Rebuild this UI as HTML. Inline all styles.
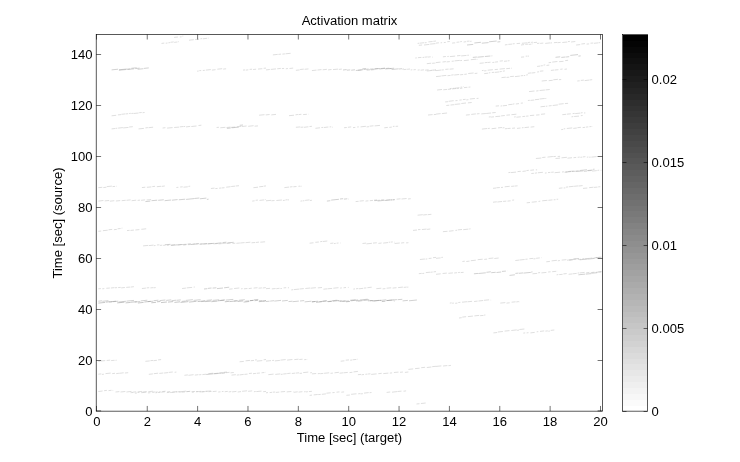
<!DOCTYPE html>
<html><head><meta charset="utf-8"><title>Activation matrix</title>
<style>html,body{margin:0;padding:0;background:#fff;}svg{display:block;font-family:"Liberation Sans",Arial,Helvetica,sans-serif;font-size:13.05px;fill:#000;}</style></head><body>
<svg width="740" height="462" viewBox="0 0 740 462">
<rect width="740" height="462" fill="#fff"/>
<g id="data" fill="none" stroke-width="0.5">
<path stroke="#bebebe" d="M161.5 43.4L164.3 43.1M165.7 43.2L167.5 43.0M168.4 42.8L170.1 42.6M170.5 42.3L173.7 41.9M174.2 42.4L177.4 42.0M177.9 41.8L178.7 41.7M174.1 37.4L177.9 37.0M179.9 37.0L181.6 36.8M182.4 36.1L183.3 36.1M189.0 40.2L193.8 39.7M195.1 39.6L199.1 39.2M200.4 38.8L202.1 38.6M202.8 38.8L207.0 38.3M207.8 38.2L208.6 38.1M197.1 71.2L198.7 71.0M199.3 70.7L201.2 70.5M202.8 70.5L204.8 70.3M205.8 70.1L210.8 69.6M211.9 70.1L215.6 69.7M217.3 69.2L222.2 68.7M223.2 69.1L226.1 68.8M243.0 70.1L245.1 69.9M245.8 70.1L248.3 69.8M249.6 69.4L252.1 69.2M253.1 69.5L256.1 69.2M258.0 69.1L262.3 68.7M263.6 68.3L266.0 68.1M111.6 115.8L116.2 115.3M117.9 114.9L121.0 114.6M121.4 114.3L125.5 113.9M125.9 113.9L128.2 113.7M129.1 113.5L130.8 113.3M131.4 113.5L133.3 113.3M133.6 113.5L138.6 113.0M139.2 112.7L141.7 112.5M142.6 112.7L144.6 112.5M111.6 128.9L115.0 128.5M115.4 128.4L117.3 128.2M118.1 128.1L122.9 127.6M123.2 127.9L128.5 127.4M129.1 127.0L132.8 126.7M138.5 128.9L143.9 128.4M145.4 127.9L147.9 127.6M148.5 127.7L153.1 127.2M162.6 128.0L165.4 127.7M167.1 128.1L172.6 127.6M174.2 127.5L179.0 127.1M179.7 126.9L183.3 126.5M183.6 126.6L185.2 126.4M186.0 126.9L190.2 126.4M191.3 126.5L196.5 126.0M198.5 125.5L201.4 125.2M216.6 127.5L218.9 127.3M220.3 127.8L225.4 127.3M226.5 127.5L230.6 127.1M231.0 127.4L235.2 127.0M236.8 126.8L241.3 126.4M241.9 126.5L246.6 126.0M248.2 126.3L253.6 125.7M254.6 126.2L258.0 125.9M259.1 115.2L264.5 114.7M265.7 114.8L266.0 114.8M272.9 54.9L277.7 54.4M278.4 54.4L281.1 54.1M282.4 54.1L284.9 53.9M285.5 53.8L290.6 53.3M266.0 69.9L269.8 69.5M270.8 69.4L276.0 68.9M277.2 68.8L280.8 68.4M281.9 68.6L284.1 68.4M285.8 68.8L287.9 68.5M289.5 68.5L293.2 68.1M295.9 70.3L299.6 69.9M300.1 69.5L303.8 69.1M304.6 69.3L308.5 68.9M311.9 70.6L316.5 70.1M317.5 70.0L321.5 69.6M322.7 69.8L326.9 69.3M328.1 69.9L331.5 69.5M333.0 69.6L338.0 69.1M338.8 69.4L341.8 69.1M403.8 69.6L406.5 69.3M407.1 69.3L410.0 69.0M410.7 69.9L412.3 69.8M413.5 69.8L415.8 69.6M417.7 70.1L419.6 69.9M420.6 70.2L424.1 69.8M425.1 70.2L428.6 69.8M430.6 70.4L433.4 70.1M434.9 70.2L436.0 70.1M417.6 43.4L419.3 43.2M419.8 43.2L424.2 42.7M424.8 42.8L426.6 42.6M428.4 41.9L432.6 41.5M433.3 41.3L436.0 41.0M418.8 45.3L422.1 45.0M424.0 45.0L429.4 44.4M430.1 44.1L435.5 43.6M415.3 58.0L416.8 57.9M417.9 57.7L421.4 57.4M422.6 57.5L424.1 57.3M424.6 57.2L427.7 56.9M428.0 57.1L430.7 56.8M432.0 57.2L432.6 57.1M426.8 63.7L431.2 63.2M432.1 63.3L434.9 63.1M435.5 62.9L436.0 62.8M426.8 71.0L431.6 70.5M433.0 70.2L436.0 69.9M266.0 114.9L269.6 114.5M271.3 114.9L276.0 114.4M289.0 115.7L294.0 115.2M295.5 114.8L297.9 114.5M298.5 114.6L301.4 114.3M303.1 114.6L306.9 114.3M308.2 114.2L308.5 114.2M428.0 115.0L432.6 114.6M433.8 114.6L436.0 114.4M295.9 127.3L300.3 126.9M300.7 127.3L303.3 127.1M303.9 127.3L308.4 126.8M309.5 126.5L311.9 126.3M315.4 128.3L320.0 127.8M321.4 127.5L323.2 127.4M323.9 127.5L328.4 127.0M329.6 126.9L331.2 126.8M331.9 127.2L332.6 127.2M344.1 127.7L346.8 127.5M347.9 127.3L351.2 126.9M353.0 127.6L355.3 127.4M357.2 127.0L358.8 126.9M360.5 126.9L365.9 126.3M366.6 126.9L369.0 126.7M369.6 126.2L373.5 125.8M374.6 125.9L380.0 125.4M384.3 127.8L387.8 127.4M389.3 127.4L391.8 127.1M392.9 126.4L394.5 126.3M395.6 126.4L398.1 126.2M436.0 43.1L438.9 42.8M440.6 42.8L442.1 42.7M443.8 42.6L445.8 42.4M447.3 41.7L449.8 41.5M452.1 43.1L455.2 42.8M456.5 42.3L459.4 42.0M460.2 41.7L461.9 41.5M463.6 42.0L466.2 41.7M466.9 41.3L469.5 41.1M470.1 41.4L471.6 41.2M504.9 44.9L507.5 44.6M508.3 44.4L512.0 44.1M512.6 43.9L514.7 43.7M516.6 43.6L520.1 43.3M521.9 43.3L527.4 42.8M527.9 42.5L530.2 42.3M531.1 42.4L532.9 42.2M533.7 42.6L537.1 42.3M521.0 45.0L524.1 44.6M525.3 44.4L528.3 44.1M528.8 44.4L531.4 44.2M531.9 43.8L532.5 43.8M537.1 43.5L539.4 43.2M540.2 43.4L543.3 43.1M545.2 43.4L550.1 42.9M550.4 43.0L552.0 42.8M553.9 42.7L557.3 42.4M557.6 42.7L560.6 42.4M562.3 42.5L567.3 42.0M568.0 41.6L569.9 41.4M571.1 42.0L575.3 41.5M576.1 45.0L580.2 44.6M581.3 44.0L585.0 43.6M586.6 44.1L589.1 43.9M590.5 43.2L593.2 43.0M593.9 43.3L598.0 42.9M598.4 42.8L600.2 42.6M442.9 56.8L445.9 56.5M447.3 56.5L448.8 56.4M449.9 56.6L455.2 56.1M457.0 55.8L460.4 55.5M461.2 55.9L466.5 55.4M467.3 55.3L468.9 55.2M470.3 55.0L470.5 55.0M436.0 62.6L440.5 62.1M442.5 62.0L445.9 61.6M446.6 61.9L449.8 61.6M451.7 61.3L453.8 61.1M454.5 60.9L459.8 60.4M460.2 60.6L462.0 60.4M463.8 60.6L468.8 60.1M470.8 59.7L476.1 59.2M476.7 59.5L477.4 59.4M479.6 63.3L483.8 62.9M484.7 62.7L487.6 62.4M487.9 62.5L490.5 62.2M492.4 62.5L494.4 62.3M495.1 62.1L498.0 61.8M499.7 61.1L502.9 60.8M504.0 61.3L507.0 61.0M507.6 60.9L509.5 60.7M521.0 57.2L524.1 56.9M525.7 56.2L527.4 56.1M527.8 56.2L529.0 56.1M548.6 62.7L551.1 62.4M552.2 62.1L557.4 61.5M559.1 61.7L563.5 61.3M565.2 60.6L568.1 60.3M537.1 66.4L540.0 66.1M540.5 65.9L542.8 65.7M543.5 65.1L545.2 64.9M546.5 65.4L549.3 65.1M436.0 70.6L441.5 70.0M441.9 70.0L443.8 69.8M445.3 69.4L448.6 69.1M449.6 69.2L453.6 68.8M436.0 76.6L440.9 76.1M441.4 75.9L446.3 75.4M447.5 75.7L450.5 75.4M451.2 75.1L453.6 74.8M454.2 75.0L459.2 74.5M460.1 74.8L463.2 74.5M464.3 74.4L466.8 74.1M468.2 73.5L473.6 73.0M474.7 73.5L477.4 73.2M481.9 70.6L483.6 70.4M484.1 70.9L486.4 70.7M487.7 70.2L492.9 69.7M494.7 69.6L497.9 69.3M499.6 69.1L504.9 68.6M506.2 68.7L510.1 68.3M511.1 68.3L511.8 68.2M484.2 73.6L488.1 73.2M488.8 72.9L490.3 72.7M491.8 72.5L494.0 72.3M494.7 72.4L499.4 71.9M499.8 71.7L501.7 71.5M502.9 71.2L504.9 70.9M501.5 77.6L505.8 77.2M506.5 77.4L509.3 77.2M510.1 76.6L513.9 76.3M514.9 76.6L519.8 76.1M520.7 75.8L523.0 75.6M523.7 75.6L525.2 75.5M526.2 75.0L527.9 74.8M527.9 73.3L531.2 72.9M531.6 73.0L535.3 72.6M537.1 72.0L539.0 71.8M539.9 71.2L543.4 70.9M550.9 70.4L554.4 70.0M554.9 70.0L558.4 69.7M560.3 69.3L562.6 69.0M564.5 69.3L566.9 69.0M541.7 81.0L546.9 80.5M548.7 80.7L552.7 80.3M553.3 79.8L557.9 79.3M558.9 79.7L561.2 79.5M577.3 81.0L579.7 80.8M580.8 80.4L583.9 80.1M584.6 80.6L589.0 80.1M589.4 80.0L592.2 79.7M437.1 90.0L442.0 89.5M443.3 89.8L447.0 89.4M447.8 89.4L451.0 89.1M452.0 88.9L456.2 88.5M457.2 88.6L458.8 88.4M460.0 88.4L462.4 88.2M464.0 87.6L467.4 87.3M468.5 87.2L470.4 87.0M449.8 88.6L451.7 88.4M452.8 88.4L454.5 88.2M454.9 88.2L459.4 87.7M460.5 87.2L462.2 87.1M463.2 86.6L463.6 86.6M529.0 91.6L534.5 91.0M536.2 91.0L538.5 90.7M539.6 90.5L544.9 90.0M545.5 89.9L549.7 89.5M445.2 101.9L448.1 101.7M448.7 101.3L453.7 100.7M455.4 100.7L457.5 100.5M459.4 100.1L461.7 99.9M462.9 99.6L465.6 99.3M466.3 99.9L468.4 99.7M469.9 99.0L474.9 98.5M476.6 98.5L478.5 98.3M446.3 105.5L449.3 105.2M450.5 105.0L454.3 104.7M454.8 104.4L460.3 103.9M461.3 103.5L466.0 103.0M467.9 102.9L471.7 102.5M495.7 106.1L499.0 105.8M500.6 106.0L502.3 105.8M503.0 105.8L507.0 105.4M508.3 104.7L512.5 104.3M512.8 104.1L514.4 103.9M515.8 104.0L519.0 103.6M520.8 103.2L522.9 103.0M524.3 102.6L524.4 102.6M527.9 100.5L529.8 100.3M530.5 100.4L534.3 100.0M535.0 99.7L539.0 99.3M539.5 99.0L544.7 98.5M545.3 98.5L546.3 98.4M540.5 106.8L545.2 106.3M545.9 106.3L547.4 106.1M548.7 105.9L551.6 105.6M552.7 105.5L557.9 104.9M558.6 104.2L563.7 103.7M564.9 103.6L568.1 103.3M436.0 114.1L440.6 113.6M441.9 113.6L447.1 113.0M465.9 115.1L469.8 114.7M471.2 114.4L475.9 113.9M476.8 113.9L479.5 113.6M481.3 113.9L485.9 113.5M486.2 113.5L491.1 113.0M492.2 112.8L495.7 112.5M488.8 117.0L490.8 116.8M491.1 117.1L494.0 116.8M495.4 116.6L500.3 116.2M501.1 115.9L504.8 115.5M506.4 115.2L510.0 114.9M511.4 114.7L516.4 114.2M514.1 117.0L515.7 116.8M516.4 117.2L520.8 116.8M522.4 116.6L525.2 116.3M526.1 116.2L528.5 116.0M529.9 115.6L534.2 115.2M536.1 115.1L539.5 114.8M541.0 114.3L545.1 113.9M562.3 114.7L566.1 114.3M566.8 114.2L570.8 113.8M572.6 113.6L574.7 113.4M575.2 113.6L580.4 113.1M580.9 112.9L582.6 112.7M584.0 113.0L585.3 112.9M571.5 116.8L573.3 116.6M574.2 116.5L579.0 116.1M580.8 115.7L582.6 115.5M481.9 129.1L487.2 128.5M487.9 128.5L489.8 128.3M491.6 128.7L496.3 128.2M498.0 127.9L502.0 127.5M502.5 127.9L504.4 127.7M504.9 128.8L507.7 128.5M508.0 128.5L510.6 128.3M512.1 128.3L515.0 128.0M517.0 128.4L520.5 128.0M521.9 127.8L523.5 127.6M524.5 127.6L529.1 127.1M530.6 127.1L534.3 126.7M561.2 129.6L563.1 129.4M563.7 128.9L565.2 128.7M566.8 128.5L572.2 127.9M573.3 128.4L576.8 128.0M577.4 127.7L580.9 127.3M582.6 127.6L585.1 127.3M585.9 127.1L588.3 126.9M589.4 126.7L591.3 126.5M591.8 126.5L592.2 126.5M98.3 187.7L102.3 187.3M103.3 187.6L106.4 187.2M106.8 186.6L111.9 186.1M112.5 186.6L115.1 186.4M116.2 186.3L116.7 186.2M141.9 187.6L145.3 187.2M146.9 187.3L151.4 186.9M152.3 186.6L155.1 186.3M156.8 186.7L161.0 186.3M161.6 186.4L164.8 186.0M176.4 187.5L178.4 187.3M180.2 187.0L182.7 186.8M183.5 187.2L187.8 186.8M188.4 186.4L190.2 186.2M210.9 188.5L214.5 188.1M215.3 188.6L217.6 188.4M219.1 188.2L221.0 188.0M221.5 188.0L224.5 187.7M226.2 187.2L230.6 186.7M231.2 186.5L235.3 186.1M235.9 186.0L239.0 185.7M253.4 187.7L258.0 187.2M259.2 186.8L263.2 186.4M263.7 186.2L266.0 185.9M98.3 201.1L103.4 200.5M104.7 200.9L109.2 200.5M109.9 201.2L114.3 200.7M115.9 201.0L120.2 200.6M121.7 200.7L125.7 200.3M126.5 200.3L130.6 199.9M131.6 200.7L136.2 200.2M137.6 200.4L140.1 200.1M141.1 200.3L145.1 199.9M146.6 200.0L151.1 199.6M252.2 201.1L254.6 200.8M255.6 200.3L257.9 200.1M259.5 200.4L264.3 199.9M265.4 199.6L266.0 199.5M98.3 231.3L101.2 231.0M102.9 230.7L107.7 230.2M108.5 229.8L112.2 229.4M113.9 229.7L116.8 229.4M117.6 228.8L120.6 228.5M121.6 228.2L122.4 228.1M127.0 230.6L129.6 230.3M130.5 230.4L133.9 230.1M135.3 230.0L139.4 229.6M141.3 229.3L146.2 228.8M143.1 245.9L148.2 245.4M148.8 245.6L153.6 245.1M153.9 245.7L155.5 245.5M156.9 245.0L159.4 244.8M159.9 245.4L162.3 245.2M163.2 245.4L165.3 245.2M167.0 245.3L169.2 245.1M170.5 245.0L175.1 244.6M176.9 245.0L181.6 244.5M182.2 244.6L186.5 244.2M188.1 244.7L191.3 244.4M192.6 244.1L195.1 243.8M195.7 243.9L199.1 243.5M200.2 244.1L202.3 243.9M203.4 244.2L207.1 243.9M207.4 243.8L212.3 243.4M213.5 243.9L217.7 243.5M218.6 243.9L221.8 243.6M222.2 243.6L226.3 243.1M226.6 243.5L230.6 243.1M232.5 243.5L235.3 243.2M236.4 243.3L239.9 243.0M240.2 243.0L244.6 242.6M245.5 242.7L250.4 242.2M251.5 242.8L255.1 242.5M255.8 242.5L259.0 242.1M260.3 242.2L265.1 241.8M284.4 187.6L289.0 187.1M289.8 187.0L292.5 186.7M293.3 186.8L296.5 186.5M298.4 186.3L300.1 186.1M300.5 186.3L301.6 186.2M266.0 200.8L271.2 200.3M271.5 200.8L274.5 200.5M276.4 200.5L281.9 200.0M282.9 200.5L284.8 200.3M285.4 200.0L287.5 199.7M287.8 200.0L289.0 199.8M300.5 201.1L302.3 200.9M302.8 200.9L304.4 200.7M305.1 200.4L309.5 199.9M309.9 200.5L311.9 200.3M355.6 201.6L358.6 201.3M359.6 201.1L363.8 200.7M365.5 201.1L368.4 200.8M369.8 200.7L373.0 200.4M374.6 200.7L379.9 200.2M381.1 199.9L383.8 199.6M385.8 200.2L390.1 199.7M391.0 200.0L394.9 199.6M396.6 199.2L400.5 198.8M401.5 199.0L406.6 198.5M408.0 199.0L410.7 198.7M417.6 215.2L422.8 214.7M423.2 215.0L426.9 214.6M427.6 214.7L431.4 214.3M413.0 230.4L417.0 230.0M418.0 229.7L420.4 229.5M421.9 229.5L426.6 229.1M427.1 229.4L430.3 229.0M309.6 243.2L313.5 242.8M315.3 242.3L318.9 242.0M320.2 241.7L322.4 241.4M323.0 241.5L327.3 241.0M330.3 243.4L333.4 243.1M334.0 243.6L335.7 243.4M336.6 243.2L338.5 243.0M340.2 243.0L340.7 243.0M362.5 243.5L366.1 243.1M366.4 243.9L371.9 243.3M373.0 243.1L376.8 242.8M378.4 243.4L381.6 243.0M383.2 243.1L388.0 242.6M388.7 242.3L390.4 242.1M391.0 242.1L392.8 241.9M394.1 242.2L394.6 242.2M394.6 243.5L399.8 243.0M401.1 243.0L404.2 242.7M406.1 242.9L408.4 242.7M535.9 158.5L541.3 158.0M542.2 157.5L545.5 157.2M547.5 157.1L552.9 156.5M553.3 156.6L555.8 156.4M557.7 156.5L560.1 156.3M555.5 158.5L560.1 158.1M561.5 157.8L566.9 157.3M567.5 158.2L572.0 157.7M573.5 157.7L576.2 157.4M577.7 157.3L579.7 157.1M580.4 157.3L582.4 157.1M583.0 156.9L585.4 156.7M586.9 157.2L588.4 157.0M589.1 157.2L590.7 157.1M591.4 157.1L596.6 156.6M508.4 172.6L510.4 172.4M510.9 172.6L516.1 172.1M517.5 171.6L520.8 171.3M522.5 171.4L525.9 171.0M526.4 170.6L528.8 170.3M530.3 170.3L534.0 169.9M535.8 169.9L537.1 169.8M531.3 173.5L533.9 173.3M534.8 173.2L537.0 172.9M537.8 172.8L542.9 172.3M544.9 173.1L546.6 172.9M548.0 172.6L550.4 172.4M551.2 172.3L553.7 172.1M554.6 172.7L560.1 172.2M562.0 172.0L563.9 171.8M565.7 172.1L567.4 171.9M568.2 171.5L573.6 171.0M575.3 171.3L578.2 171.0M578.5 171.5L583.3 171.0M583.9 171.5L587.1 171.2M587.8 170.8L591.6 170.5M592.2 171.1L596.8 170.6M597.4 170.4L599.2 170.2M600.6 170.4L601.4 170.3M493.0 188.3L496.0 188.0M496.3 187.8L499.8 187.5M501.0 187.5L503.0 187.3M504.7 186.8L509.7 186.3M511.2 186.4L514.2 186.1M514.6 186.1L517.6 185.8M558.9 188.3L562.5 187.9M563.7 188.0L565.3 187.9M565.9 187.2L568.2 186.9M568.9 186.8L573.7 186.3M574.1 186.3L578.4 185.9M578.7 186.0L582.6 185.6M583.0 188.4L587.3 188.0M589.1 187.7L593.5 187.2M594.0 187.4L597.5 187.1M598.2 186.9L600.2 186.7M600.8 186.9L600.9 186.9M493.0 202.2L496.8 201.8M497.3 202.0L502.1 201.5M503.1 201.4L506.3 201.1M507.5 201.1L510.6 200.8M512.2 200.2L514.1 200.0M526.7 202.8L530.0 202.5M531.7 202.2L536.8 201.7M538.5 201.4L540.3 201.2M542.2 200.8L547.4 200.3M548.4 200.3L552.5 199.9M553.7 199.8L555.5 199.7M556.6 199.3L558.2 199.2M442.9 231.7L447.5 231.3M448.9 231.2L453.6 230.7M455.4 230.4L457.1 230.2M457.8 229.9L462.0 229.5M463.2 229.7L468.4 229.1M469.2 229.0L470.5 228.8M98.3 288.8L100.9 288.6M102.3 288.8L104.3 288.6M106.3 288.3L109.8 288.0M110.9 288.0L114.5 287.6M115.0 287.8L117.1 287.6M118.1 287.6L120.7 287.4M121.2 287.9L124.9 287.5M126.2 287.4L130.0 287.1M130.6 287.1L133.9 286.7M141.9 288.5L145.9 288.1M146.7 287.9L149.2 287.7M150.4 287.9L153.4 287.6M153.7 287.8L155.7 287.6M182.1 288.5L185.9 288.1M186.7 287.9L192.1 287.4M193.7 287.1L194.8 287.0M229.2 289.2L232.6 288.8M234.1 288.5L239.3 288.0M241.1 288.8L242.6 288.6M243.9 288.8L247.4 288.5M248.7 288.6L251.8 288.2M253.6 288.1L257.5 287.7M258.6 288.2L261.9 287.9M262.7 288.0L265.8 287.6M419.9 259.5L424.9 259.0M425.6 259.1L427.3 258.9M428.7 258.5L431.6 258.2M433.0 257.7L436.0 257.4M418.8 273.7L421.7 273.4M422.3 273.5L424.2 273.3M425.8 272.6L430.1 272.2M430.5 272.3L432.7 272.0M433.5 271.9L436.0 271.6M266.0 288.7L270.1 288.3M271.8 288.9L275.6 288.5M276.3 288.7L279.5 288.3M280.4 288.6L281.9 288.5M283.6 287.9L286.2 287.7M287.9 287.8L289.0 287.7M291.3 289.9L293.2 289.7M293.9 289.6L299.0 289.1M299.5 289.0L303.8 288.6M305.3 288.5L310.1 288.0M310.6 288.2L315.9 287.7M317.8 287.9L322.0 287.5M323.4 289.2L327.4 288.8M327.8 288.8L332.1 288.4M333.3 288.2L338.5 287.7M340.1 288.1L341.8 287.9M343.5 287.8L346.0 287.5M347.9 287.4L348.7 287.4M353.3 289.1L355.0 288.9M356.0 288.8L358.3 288.5M358.9 288.8L363.2 288.3M363.9 288.1L366.4 287.9M367.4 287.7L371.7 287.2M376.3 288.7L381.3 288.2M382.6 288.9L385.4 288.6M386.6 288.2L391.2 287.8M392.6 288.1L396.5 287.7M398.1 287.6L402.9 287.1M403.7 287.4L406.7 287.1M407.1 287.2L408.4 287.1M436.0 258.3L440.6 257.9M441.3 257.4L442.9 257.3M462.4 261.5L464.8 261.2M466.3 261.5L469.5 261.1M470.8 260.7L475.8 260.2M477.7 259.7L482.7 259.2M484.2 259.4L487.1 259.1M488.6 258.5L493.4 258.0M494.3 258.5L498.7 258.0M500.3 257.6L500.3 257.6M515.3 260.5L519.0 260.1M519.4 260.0L524.6 259.5M525.4 259.3L527.6 259.1M529.4 258.7L533.2 258.4M533.5 258.9L535.5 258.7M536.1 258.3L539.8 257.9M541.3 257.7L541.7 257.7M546.3 261.8L549.9 261.4M551.6 260.9L556.9 260.3M557.8 260.8L559.9 260.5M561.7 260.1L566.4 259.7M567.0 260.2L571.7 259.7M572.7 259.4L576.1 259.1M577.9 259.5L580.9 259.2M582.3 258.8L584.1 258.6M584.7 258.8L589.8 258.3M590.2 258.2L592.4 258.0M593.5 258.0L597.3 257.6M598.2 257.8L599.7 257.6M600.6 257.5L601.4 257.4M436.0 274.3L440.7 273.8M442.6 273.5L446.8 273.1M448.4 273.3L452.9 272.9M454.2 273.0L457.1 272.7M458.1 272.6L459.9 272.4M460.7 272.6L463.6 272.3M532.5 273.8L537.2 273.4M538.1 272.8L540.1 272.6M541.4 272.9L546.4 272.4M548.2 272.0L550.6 271.8M552.2 271.7L556.3 271.3M557.7 271.0L557.8 271.0M556.6 274.8L558.3 274.6M559.2 274.6L562.6 274.3M563.4 273.9L566.7 273.6M568.6 274.3L572.4 273.9M572.7 273.8L576.7 273.4M577.6 273.1L579.4 272.9M580.0 272.9L584.6 272.4M586.2 272.8L589.4 272.4M590.7 272.6L594.4 272.2M595.8 272.3L598.6 272.0M599.3 272.1L601.4 271.8M449.8 303.1L451.6 302.9M452.2 303.2L453.9 303.1M455.2 303.3L457.4 303.1M458.3 302.5L460.4 302.3M462.0 302.2L467.1 301.7M467.5 301.8L472.1 301.3M474.1 301.5L477.6 301.1M478.5 301.0L483.2 300.5M484.0 300.3L489.1 299.8M490.7 300.1L491.1 300.1M500.3 303.1L505.3 302.6M506.5 303.1L509.7 302.8M511.6 302.2L515.6 301.8M516.3 301.9L518.9 301.6M519.6 301.8L519.9 301.8M459.0 318.0L461.7 317.7M462.3 317.1L466.1 316.7M467.9 316.6L472.9 316.1M474.4 315.9L479.2 315.4M480.1 315.7L483.5 315.4M484.1 315.1L485.4 315.0M493.4 332.9L497.2 332.5M497.9 332.0L502.9 331.5M504.6 331.1L509.5 330.6M511.3 330.5L516.8 329.9M517.1 330.3L519.1 330.1M519.4 329.5L524.4 329.0M523.3 333.1L525.2 332.9M526.6 332.9L528.5 332.7M530.4 332.9L534.7 332.4M536.7 331.8L538.3 331.7M540.0 331.4L544.2 330.9M545.4 331.1L547.8 330.9M548.3 331.2L549.9 331.1M550.7 330.4L554.3 330.0M98.3 361.4L100.3 361.2M100.9 361.0L105.2 360.6M106.7 360.5L110.2 360.1M111.1 360.6L114.6 360.3M115.5 360.3L116.7 360.2M145.4 361.3L149.8 360.9M150.4 360.7L153.0 360.4M153.4 360.7L156.9 360.3M158.1 359.9L161.1 359.6M162.6 359.9L162.6 359.9M239.6 361.8L243.8 361.4M245.6 360.8L250.0 360.4M250.8 360.8L254.0 360.4M255.0 360.0L256.8 359.8M256.8 361.1L262.3 360.6M263.6 359.8L266.0 359.5M98.3 374.2L101.3 373.9M101.9 374.4L103.9 374.2M105.5 373.6L110.7 373.1M112.2 373.6L115.0 373.3M116.2 373.6L118.9 373.3M119.2 373.3L123.7 372.8M124.9 373.0L128.2 372.7M148.8 374.3L152.9 373.9M153.8 373.7L158.1 373.2M159.3 373.4L163.3 373.0M164.1 373.0L168.2 372.6M168.8 372.4L172.8 372.0M174.6 372.3L176.4 372.1M184.4 375.3L187.9 374.9M188.4 375.3L193.6 374.7M194.8 375.1L198.4 374.7M199.1 374.8L201.3 374.6M202.4 374.6L206.4 374.2M208.3 373.7L213.2 373.2M214.2 373.9L219.0 373.4M219.5 373.2L221.6 373.0M222.1 373.4L225.0 373.1M226.2 372.7L229.5 372.3M230.5 372.8L233.8 372.5M231.5 375.1L235.9 374.7M236.8 375.1L239.2 374.8M239.7 374.9L243.7 374.4M244.4 374.4L247.6 374.1M248.9 373.5L251.9 373.2M253.0 373.7L255.9 373.4M256.7 373.3L259.9 373.0M261.5 372.8L264.4 372.5M265.7 372.3L266.0 372.3M98.3 391.5L102.6 391.0M104.1 390.7L106.9 390.4M108.5 390.6L111.5 390.3M112.6 390.4L113.2 390.4M115.5 392.0L119.4 391.6M120.5 392.0L125.3 391.5M126.4 392.0L131.5 391.4M132.6 392.2L136.2 391.8M137.6 391.9L142.1 391.4M142.5 392.0L146.7 391.6M148.3 391.7L152.9 391.2M153.5 392.1L155.4 391.9M155.8 392.1L157.7 391.9M158.9 392.0L160.7 391.8M162.2 391.6L165.6 391.2M167.1 391.9L170.2 391.6M172.2 392.1L177.0 391.6M177.6 391.8L180.4 391.6M180.7 391.7L186.2 391.1M186.9 391.6L189.7 391.4M191.4 391.8L195.1 391.4M196.2 391.6L197.9 391.5M199.6 392.0L204.3 391.5M205.1 391.4L207.4 391.2M208.6 391.7L211.6 391.4M212.7 391.6L216.6 391.2M218.2 392.0L220.5 391.8M221.8 391.6L223.5 391.4M224.7 391.7L227.8 391.4M228.7 391.9L231.3 391.6M232.1 391.9L236.4 391.4M237.7 392.0L241.0 391.6M242.1 391.3L247.1 390.8M248.1 391.3L252.2 390.9M253.9 391.7L255.7 391.5M256.3 391.6L261.5 391.1M263.2 391.7L266.0 391.4M130.5 392.7L133.1 392.5M134.9 393.2L136.9 393.0M137.6 392.5L139.5 392.3M141.1 392.7L146.4 392.2M147.9 392.9L150.4 392.7M151.9 392.3L154.0 392.1M155.5 392.8L157.1 392.6M157.9 392.5L160.4 392.3M161.2 392.2L164.9 391.8M166.8 392.6L169.6 392.3M170.1 392.6L174.8 392.1M175.8 392.1L177.4 391.9M178.8 392.1L181.2 391.9M181.7 392.2L185.0 391.9M186.1 391.7L190.3 391.3M192.0 392.2L194.0 392.0M196.0 391.8L201.2 391.3M202.0 391.9L204.9 391.6M206.1 391.4L210.9 390.9M266.0 361.1L271.0 360.6M272.2 360.5L274.0 360.3M274.8 360.9L279.9 360.4M280.5 360.1L285.7 359.6M287.1 360.1L292.4 359.5M294.3 359.6L298.5 359.2M299.3 359.5L302.6 359.2M304.2 359.7L306.4 359.5M307.2 359.5L307.4 359.4M340.7 361.2L344.4 360.8M345.7 360.2L349.0 359.9M350.2 360.2L352.1 360.0M352.6 359.8L356.4 359.4M357.4 359.2L357.9 359.2M268.3 374.7L273.6 374.1M275.3 374.4L280.3 373.9M280.8 374.4L282.7 374.2M283.2 374.0L286.7 373.7M287.2 373.6L290.6 373.2M291.8 373.5L295.3 373.1M295.9 373.1L299.1 372.8M299.6 373.4L302.0 373.2M303.2 372.6L308.3 372.1M310.2 372.8L311.9 372.6M311.9 373.9L316.2 373.5M317.8 373.7L319.9 373.5M320.2 373.7L323.3 373.4M324.1 373.3L329.2 372.8M330.5 373.3L332.9 373.1M334.5 372.8L338.9 372.3M339.6 373.2L343.5 372.8M343.9 372.8L347.8 372.4M349.5 372.6L352.4 372.3M353.5 371.9L357.9 371.4M357.9 374.7L361.0 374.4M361.5 374.8L364.0 374.5M365.4 374.3L367.5 374.1M368.1 374.0L370.4 373.8M371.2 374.4L376.6 373.9M378.3 373.7L381.7 373.3M383.3 373.6L388.4 373.1M389.8 373.1L392.1 372.9M393.9 372.5L398.5 372.1M400.0 372.3L402.9 372.0M404.9 372.4L408.4 372.0M408.4 369.4L413.2 368.9M415.1 368.6L419.6 368.2M421.2 367.7L425.1 367.3M426.8 367.5L431.4 367.0M432.2 366.7L436.0 366.3M266.0 392.8L268.0 392.6M269.6 392.6L272.1 392.3M272.8 392.2L275.1 392.0M275.8 392.4L279.3 392.1M280.7 391.9L285.1 391.5M286.7 391.9L291.4 391.5M293.3 391.5L293.6 391.5M293.6 392.3L297.7 391.8M298.6 392.1L302.4 391.7M304.1 391.8L305.6 391.6M305.9 391.9L307.9 391.7M308.9 391.6L311.9 391.3M309.6 395.4L312.0 395.1M313.7 394.9L317.7 394.5M318.2 394.6L320.7 394.4M321.8 394.3L325.9 393.9M326.4 393.2L330.7 392.8M332.4 392.7L334.6 392.5M336.5 392.2L339.5 391.9M341.3 392.2L344.1 391.9M346.4 395.3L349.9 395.0M351.1 394.3L356.5 393.8M358.2 393.8L360.4 393.6M360.7 393.9L362.9 393.7M364.0 393.1L368.7 392.6M369.6 392.7L371.5 392.5M386.6 392.4L390.2 392.0M392.0 392.2L397.1 391.6M397.5 391.5L401.5 391.1M403.5 391.2L406.1 390.9M416.5 404.0L419.5 403.7M420.9 403.5L425.7 403.0M436.0 366.4L441.4 365.9M443.1 366.0L447.4 365.6M448.4 365.7L450.9 365.4"/>
<path stroke="#a4a4a4" d="M111.6 69.9L118.1 69.2M118.9 70.2L126.3 69.5M126.8 69.2L130.3 68.9M131.3 68.3L136.7 67.8M137.6 69.3L143.5 68.7M144.0 68.4L148.8 67.9M119.0 69.8L126.7 69.0M127.6 69.5L134.1 68.8M135.3 68.6L139.6 68.1M226.9 128.4L230.7 128.0M231.7 127.8L238.8 127.1M239.7 125.3L243.0 125.0M343.0 70.0L346.6 69.6M346.8 70.2L350.2 69.9M351.2 70.2L355.0 69.8M355.8 70.5L363.2 69.7M363.7 69.5L368.6 69.0M369.8 69.2L373.6 68.9M374.4 68.9L378.3 68.5M379.3 69.0L385.0 68.4M385.2 69.0L391.4 68.4M391.6 69.5L398.6 68.8M398.9 69.0L402.1 68.7M402.5 69.2L403.8 69.0M357.9 70.3L361.6 69.9M362.4 68.8L365.9 68.5M366.7 70.1L370.1 69.8M370.9 69.9L374.4 69.6M374.6 69.0L379.9 68.5M380.6 68.6L385.0 68.1M385.7 68.5L389.3 68.2M389.5 68.7L394.1 68.2M467.0 45.0L473.2 44.4M474.3 43.0L480.9 42.3M481.8 43.2L488.6 42.6M489.1 41.8L496.7 41.0M497.4 42.0L500.3 41.7M472.8 57.4L476.9 57.0M477.4 57.2L483.8 56.6M484.8 56.5L490.4 56.0M491.5 55.9L492.3 55.8M555.5 57.3L560.2 56.8M561.3 57.4L565.6 57.0M566.1 57.0L569.2 56.7M570.3 55.4L578.0 54.6M578.4 56.1L580.7 55.9M145.4 201.6L150.3 201.1M151.5 200.7L157.2 200.2M158.2 200.3L163.8 199.8M164.6 200.7L171.2 200.0M172.0 200.2L177.6 199.6M178.8 199.8L185.2 199.2M186.1 199.4L194.1 198.6M194.3 198.5L199.3 198.0M199.9 198.8L206.4 198.1M206.9 199.4L208.6 199.2M164.9 244.8L170.4 244.3M171.1 245.5L177.4 244.8M177.9 244.9L182.4 244.5M183.3 245.0L186.5 244.6M187.6 244.1L190.8 243.8M191.0 244.5L198.6 243.8M199.5 244.2L207.0 243.5M207.8 243.9L214.3 243.3M215.2 243.5L221.5 242.8M222.5 242.6L226.4 242.2M227.4 242.9L233.7 242.3M326.9 201.1L330.3 200.7M331.2 200.1L338.9 199.3M340.0 199.0L343.1 198.7M343.9 199.1L347.3 198.8M348.3 199.1L348.7 199.0M374.0 200.3L377.0 200.0M377.6 201.0L384.7 200.3M384.9 200.5L392.0 199.8M392.8 199.9L394.6 199.7M564.6 172.2L571.2 171.5M572.0 171.5L575.3 171.2M575.9 171.3L579.2 171.0M579.7 170.5L587.0 169.8M587.3 170.6L592.6 170.0M593.1 169.3L594.5 169.2M204.0 289.0L207.3 288.7M207.9 288.4L211.5 288.0M212.6 288.1L216.4 287.8M217.0 288.6L223.0 288.0M224.1 287.8L229.2 287.2M98.3 301.2L102.1 300.8M102.4 301.3L108.4 300.7M109.0 302.1L112.3 301.8M113.1 301.7L118.3 301.2M118.7 302.0L126.4 301.2M126.9 301.1L134.0 300.4M134.8 302.1L140.2 301.5M140.7 300.9L147.3 300.2M147.8 301.7L153.2 301.2M153.6 300.7L158.4 300.2M159.6 300.6L165.4 300.0M166.2 300.4L171.2 299.9M171.5 300.7L176.2 300.2M176.6 300.3L180.8 299.9M181.7 301.4L185.5 301.0M185.8 300.4L192.9 299.7M193.6 300.4L200.6 299.7M201.2 301.6L206.0 301.1M206.4 300.4L212.0 299.9M212.6 300.4L219.2 299.8M220.3 300.4L225.1 299.9M225.9 300.1L233.3 299.4M234.0 301.1L238.3 300.7M238.9 300.3L244.8 299.7M245.3 301.1L249.2 300.8M249.8 300.7L253.3 300.3M253.9 299.8L258.3 299.4M258.9 300.8L262.5 300.5M263.0 300.9L266.0 300.6M266.0 301.5L269.6 301.2M270.2 301.1L274.1 300.7M274.3 301.1L281.0 300.4M282.0 301.0L287.8 300.4M288.5 301.6L292.4 301.2M292.6 301.7L298.8 301.1M300.0 301.0L304.2 300.6M304.6 301.9L311.4 301.2M311.9 301.8L318.1 301.2M319.3 301.7L326.2 301.0M327.1 301.6L331.0 301.2M331.6 300.8L337.3 300.2M338.4 301.1L341.6 300.7M342.4 301.5L348.9 300.9M350.1 300.3L355.6 299.7M356.1 301.0L359.5 300.7M359.8 300.0L367.7 299.2M367.9 300.9L371.9 300.5M372.1 301.0L379.3 300.3M380.0 300.5L386.3 299.8M386.9 300.6L392.1 300.1M393.1 300.0L396.9 299.6M397.6 299.7L402.3 299.3M402.6 300.9L407.9 300.4M409.0 300.8L416.9 300.0M569.2 260.1L573.0 259.7M573.4 259.1L578.9 258.5M579.7 259.8L587.5 259.0M587.7 259.1L594.6 258.4M595.6 257.7L601.4 257.1M473.9 273.8L478.1 273.4M478.4 273.5L485.8 272.8M486.4 272.3L490.9 271.8M491.2 272.7L495.7 272.3M496.5 272.5L501.2 272.0M502.0 271.4L505.9 271.1M507.1 270.7L507.2 270.7M509.5 275.4L514.9 274.8M515.4 273.4L518.5 273.1M519.0 273.3L523.1 272.9M523.5 273.1L530.8 272.4M531.2 272.1L532.5 271.9M578.4 274.8L585.3 274.1M585.9 274.1L591.6 273.6M591.9 273.2L597.3 272.7M598.2 272.0L601.4 271.7M206.3 374.5L213.3 373.8M213.6 373.7L218.4 373.2M218.9 373.2L223.6 372.7M223.8 372.4L226.9 372.1"/>
<path stroke="#909090" d="M98.3 303.1L105.2 302.4M105.9 302.1L109.9 301.7M110.2 301.8L116.1 301.2M117.2 302.9L124.4 302.2M125.6 302.9L130.7 302.4M130.9 302.2L136.8 301.7M137.9 303.0L143.6 302.4M144.3 302.0L150.7 301.3M151.3 302.8L156.0 302.3M156.9 301.8L160.4 301.5M161.0 302.6L166.9 302.0M168.0 302.1L173.2 301.6M174.4 302.4L180.1 301.8M180.5 302.4L188.4 301.6M189.1 302.1L196.5 301.3M197.6 301.6L205.0 300.8M205.4 301.6L210.9 301.1M211.3 301.7L217.5 301.1M218.0 300.8L224.2 300.2M224.8 301.8L229.3 301.3M229.5 301.6L236.8 300.8M237.6 301.5L243.1 300.9M243.6 302.1L249.2 301.5M250.0 300.7L253.6 300.4M254.6 300.7L258.1 300.3M258.8 301.7L264.9 301.1M265.1 300.9L266.0 300.8M311.9 301.9L315.2 301.5M316.1 302.3L321.9 301.7M322.6 301.2L327.1 300.8M328.2 301.7L332.1 301.3M332.8 301.2L339.1 300.5M339.8 301.4L345.5 300.8M346.1 301.8L350.0 301.4M350.7 300.8L358.1 300.0M358.3 301.1L362.6 300.6M363.4 300.4L369.2 299.8M369.9 300.8L373.3 300.5M373.6 301.0L380.9 300.3M381.8 301.6L385.4 301.2M386.3 300.6L393.5 299.9M393.9 301.1L394.6 301.0"/>
</g>
<g id="colorbar" shape-rendering="crispEdges">
<rect x="622.5" y="405.26" width="25.100000000000023" height="6.29" fill="rgb(255,255,255)"/>
<rect x="622.5" y="399.38" width="25.100000000000023" height="6.29" fill="rgb(251,251,251)"/>
<rect x="622.5" y="393.49" width="25.100000000000023" height="6.29" fill="rgb(247,247,247)"/>
<rect x="622.5" y="387.61" width="25.100000000000023" height="6.29" fill="rgb(243,243,243)"/>
<rect x="622.5" y="381.72" width="25.100000000000023" height="6.29" fill="rgb(239,239,239)"/>
<rect x="622.5" y="375.84" width="25.100000000000023" height="6.29" fill="rgb(235,235,235)"/>
<rect x="622.5" y="369.95" width="25.100000000000023" height="6.29" fill="rgb(231,231,231)"/>
<rect x="622.5" y="364.07" width="25.100000000000023" height="6.29" fill="rgb(227,227,227)"/>
<rect x="622.5" y="358.18" width="25.100000000000023" height="6.29" fill="rgb(223,223,223)"/>
<rect x="622.5" y="352.30" width="25.100000000000023" height="6.29" fill="rgb(219,219,219)"/>
<rect x="622.5" y="346.41" width="25.100000000000023" height="6.29" fill="rgb(215,215,215)"/>
<rect x="622.5" y="340.53" width="25.100000000000023" height="6.29" fill="rgb(210,210,210)"/>
<rect x="622.5" y="334.64" width="25.100000000000023" height="6.29" fill="rgb(206,206,206)"/>
<rect x="622.5" y="328.76" width="25.100000000000023" height="6.29" fill="rgb(202,202,202)"/>
<rect x="622.5" y="322.87" width="25.100000000000023" height="6.29" fill="rgb(198,198,198)"/>
<rect x="622.5" y="316.99" width="25.100000000000023" height="6.29" fill="rgb(194,194,194)"/>
<rect x="622.5" y="311.10" width="25.100000000000023" height="6.29" fill="rgb(190,190,190)"/>
<rect x="622.5" y="305.22" width="25.100000000000023" height="6.29" fill="rgb(186,186,186)"/>
<rect x="622.5" y="299.33" width="25.100000000000023" height="6.29" fill="rgb(182,182,182)"/>
<rect x="622.5" y="293.45" width="25.100000000000023" height="6.29" fill="rgb(178,178,178)"/>
<rect x="622.5" y="287.56" width="25.100000000000023" height="6.29" fill="rgb(174,174,174)"/>
<rect x="622.5" y="281.68" width="25.100000000000023" height="6.29" fill="rgb(170,170,170)"/>
<rect x="622.5" y="275.79" width="25.100000000000023" height="6.29" fill="rgb(166,166,166)"/>
<rect x="622.5" y="269.91" width="25.100000000000023" height="6.29" fill="rgb(162,162,162)"/>
<rect x="622.5" y="264.02" width="25.100000000000023" height="6.29" fill="rgb(158,158,158)"/>
<rect x="622.5" y="258.14" width="25.100000000000023" height="6.29" fill="rgb(154,154,154)"/>
<rect x="622.5" y="252.25" width="25.100000000000023" height="6.29" fill="rgb(150,150,150)"/>
<rect x="622.5" y="246.37" width="25.100000000000023" height="6.29" fill="rgb(146,146,146)"/>
<rect x="622.5" y="240.48" width="25.100000000000023" height="6.29" fill="rgb(142,142,142)"/>
<rect x="622.5" y="234.60" width="25.100000000000023" height="6.29" fill="rgb(138,138,138)"/>
<rect x="622.5" y="228.71" width="25.100000000000023" height="6.29" fill="rgb(134,134,134)"/>
<rect x="622.5" y="222.82" width="25.100000000000023" height="6.29" fill="rgb(130,130,130)"/>
<rect x="622.5" y="216.94" width="25.100000000000023" height="6.29" fill="rgb(125,125,125)"/>
<rect x="622.5" y="211.05" width="25.100000000000023" height="6.29" fill="rgb(121,121,121)"/>
<rect x="622.5" y="205.17" width="25.100000000000023" height="6.29" fill="rgb(117,117,117)"/>
<rect x="622.5" y="199.28" width="25.100000000000023" height="6.29" fill="rgb(113,113,113)"/>
<rect x="622.5" y="193.40" width="25.100000000000023" height="6.29" fill="rgb(109,109,109)"/>
<rect x="622.5" y="187.51" width="25.100000000000023" height="6.29" fill="rgb(105,105,105)"/>
<rect x="622.5" y="181.63" width="25.100000000000023" height="6.29" fill="rgb(101,101,101)"/>
<rect x="622.5" y="175.74" width="25.100000000000023" height="6.29" fill="rgb(97,97,97)"/>
<rect x="622.5" y="169.86" width="25.100000000000023" height="6.29" fill="rgb(93,93,93)"/>
<rect x="622.5" y="163.97" width="25.100000000000023" height="6.29" fill="rgb(89,89,89)"/>
<rect x="622.5" y="158.09" width="25.100000000000023" height="6.29" fill="rgb(85,85,85)"/>
<rect x="622.5" y="152.20" width="25.100000000000023" height="6.29" fill="rgb(81,81,81)"/>
<rect x="622.5" y="146.32" width="25.100000000000023" height="6.29" fill="rgb(77,77,77)"/>
<rect x="622.5" y="140.43" width="25.100000000000023" height="6.29" fill="rgb(73,73,73)"/>
<rect x="622.5" y="134.55" width="25.100000000000023" height="6.29" fill="rgb(69,69,69)"/>
<rect x="622.5" y="128.66" width="25.100000000000023" height="6.29" fill="rgb(65,65,65)"/>
<rect x="622.5" y="122.78" width="25.100000000000023" height="6.29" fill="rgb(61,61,61)"/>
<rect x="622.5" y="116.89" width="25.100000000000023" height="6.29" fill="rgb(57,57,57)"/>
<rect x="622.5" y="111.01" width="25.100000000000023" height="6.29" fill="rgb(53,53,53)"/>
<rect x="622.5" y="105.12" width="25.100000000000023" height="6.29" fill="rgb(49,49,49)"/>
<rect x="622.5" y="99.24" width="25.100000000000023" height="6.29" fill="rgb(45,45,45)"/>
<rect x="622.5" y="93.35" width="25.100000000000023" height="6.29" fill="rgb(40,40,40)"/>
<rect x="622.5" y="87.47" width="25.100000000000023" height="6.29" fill="rgb(36,36,36)"/>
<rect x="622.5" y="81.58" width="25.100000000000023" height="6.29" fill="rgb(32,32,32)"/>
<rect x="622.5" y="75.70" width="25.100000000000023" height="6.29" fill="rgb(28,28,28)"/>
<rect x="622.5" y="69.81" width="25.100000000000023" height="6.29" fill="rgb(24,24,24)"/>
<rect x="622.5" y="63.93" width="25.100000000000023" height="6.29" fill="rgb(20,20,20)"/>
<rect x="622.5" y="58.04" width="25.100000000000023" height="6.29" fill="rgb(16,16,16)"/>
<rect x="622.5" y="52.16" width="25.100000000000023" height="6.29" fill="rgb(12,12,12)"/>
<rect x="622.5" y="46.27" width="25.100000000000023" height="6.29" fill="rgb(8,8,8)"/>
<rect x="622.5" y="40.39" width="25.100000000000023" height="6.29" fill="rgb(4,4,4)"/>
<rect x="622.5" y="34.50" width="25.100000000000023" height="6.29" fill="rgb(0,0,0)"/>
</g>
<g fill="none" stroke="#000" stroke-width="0.65">
<rect x="622.5" y="34.5" width="25.100000000000023" height="376.65"/>
<rect x="96.2" y="34.5" width="506.3" height="376.65"/>
</g>
<g fill="none" stroke="#000" stroke-width="0.55">
<path d="M96.50 411.15v-5.2M96.50 34.5v5"/>
<path d="M147.26 411.15v-5.2M147.26 34.5v5"/>
<path d="M197.62 411.15v-5.2M197.62 34.5v5"/>
<path d="M247.98 411.15v-5.2M247.98 34.5v5"/>
<path d="M298.34 411.15v-5.2M298.34 34.5v5"/>
<path d="M348.70 411.15v-5.2M348.70 34.5v5"/>
<path d="M399.06 411.15v-5.2M399.06 34.5v5"/>
<path d="M449.42 411.15v-5.2M449.42 34.5v5"/>
<path d="M499.78 411.15v-5.2M499.78 34.5v5"/>
<path d="M550.14 411.15v-5.2M550.14 34.5v5"/>
<path d="M600.50 411.15v-5.2M600.50 34.5v5"/>
<path d="M96.2 410.85h4.9M602.5 410.85h-4.9"/>
<path d="M96.2 360.50h4.9M602.5 360.50h-4.9"/>
<path d="M96.2 309.50h4.9M602.5 309.50h-4.9"/>
<path d="M96.2 258.50h4.9M602.5 258.50h-4.9"/>
<path d="M96.2 207.50h4.9M602.5 207.50h-4.9"/>
<path d="M96.2 156.50h4.9M602.5 156.50h-4.9"/>
<path d="M96.2 105.50h4.9M602.5 105.50h-4.9"/>
<path d="M96.2 54.50h4.9M602.5 54.50h-4.9"/>
<path d="M622.5 411.50h4M647.6 411.50h-4"/>
<path d="M622.5 328.50h4M647.6 328.50h-4"/>
<path d="M622.5 245.50h4M647.6 245.50h-4"/>
<path d="M622.5 162.50h4M647.6 162.50h-4"/>
<path d="M622.5 79.50h4M647.6 79.50h-4"/>
</g>
<g text-anchor="middle">
<text x="96.9" y="426.2">0</text>
<text x="147.3" y="426.2">2</text>
<text x="197.6" y="426.2">4</text>
<text x="248.0" y="426.2">6</text>
<text x="298.3" y="426.2">8</text>
<text x="348.7" y="426.2">10</text>
<text x="399.1" y="426.2">12</text>
<text x="449.4" y="426.2">14</text>
<text x="499.8" y="426.2">16</text>
<text x="550.1" y="426.2">18</text>
<text x="600.5" y="426.2">20</text>
</g><g text-anchor="end">
<text x="92.5" y="415.8">0</text>
<text x="92.5" y="364.8">20</text>
<text x="92.5" y="313.8">40</text>
<text x="92.5" y="262.8">60</text>
<text x="92.5" y="211.8">80</text>
<text x="92.5" y="160.8">100</text>
<text x="92.5" y="109.8">120</text>
<text x="92.5" y="58.8">140</text>
</g><g text-anchor="start">
<text x="651.5" y="415.8">0</text>
<text x="651.5" y="332.8">0.005</text>
<text x="651.5" y="249.8">0.01</text>
<text x="651.5" y="166.8">0.015</text>
<text x="651.5" y="83.8">0.02</text>
</g>
<text x="349.5" y="24.5" text-anchor="middle">Activation matrix</text>
<text x="349.5" y="442.1" text-anchor="middle">Time [sec] (target)</text>
<text transform="translate(62 223) rotate(-90)" text-anchor="middle">Time [sec] (source)</text>
</svg></body></html>
